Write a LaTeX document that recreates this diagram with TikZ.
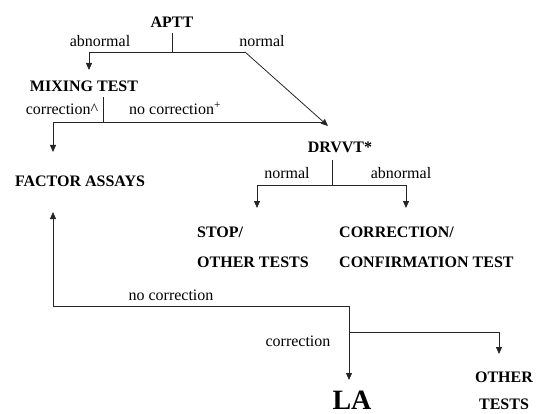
\documentclass[tikz,border=0pt]{standalone}
\usepackage{fontspec}
\setmainfont{Liberation Serif}
\usetikzlibrary{arrows.meta}
\begin{document}
\begin{tikzpicture}[x=1pt,y=-1pt,
  box/.style={font=\fontsize{16}{30}\selectfont\bfseries, inner sep=0pt, anchor=base},
  lab/.style={font=\fontsize{16}{18}\selectfont, inner sep=0pt, anchor=base},
  conn/.style={draw=black!85, line width=0.8pt},
  arr/.style={conn, -{Triangle[length=7pt,width=6pt]}}]
\useasboundingbox (0,0) rectangle (537,414);
% nodes
\node[box] (aptt) at (172,28) {APTT};
\node[box] (mix) at (84,92) {MIXING TEST};
\node[box] (fa) at (80,186) {FACTOR ASSAYS};
\node[box] (drvvt) at (340,153) {DRVVT*};
\node[box, anchor=base west, align=left] (stop) at (197,267) {STOP/\\OTHER TESTS};
\node[box, anchor=base west, align=left] (conf) at (339,267) {CORRECTION/\\CONFIRMATION TEST};
\node[box, font=\fontsize{28}{30}\selectfont\bfseries] (la) at (352,409) {LA};
\node[box, font=\fontsize{16}{27}\selectfont\bfseries, align=center] (oth) at (504,409) {OTHER\\TESTS};
% labels
\node[lab] (l1) at (100,47) {abnormal};
\node[lab] (l2) at (262,47) {normal};
\node[lab] (l3) at (62,115) {correction\^{}};
\node[lab] (l4) at (175,115) {no correction\textsuperscript{+}};
\node[lab] (l5) at (287,178) {normal};
\node[lab] (l6) at (401,178) {abnormal};
\node[lab] (l7) at (171,300) {no correction};
\node[lab] (l8) at (298,346) {correction};
% coordinates
\coordinate (apttb) at (172,33);
\coordinate (j1) at (172,52);
\coordinate (j1l) at (89,52);
\coordinate (mixt) at (89,70);
\coordinate (j1r) at (245,52);
\coordinate (drvt) at (328,126);
\coordinate (mixb) at (103,97);
\coordinate (j2) at (103,122);
\coordinate (j2l) at (53,122);
\coordinate (fat) at (53,152);
\coordinate (j2r) at (326,122);
\coordinate (drvb) at (332,160);
\coordinate (j3) at (332,185);
\coordinate (j3l) at (257,185);
\coordinate (stopt) at (257,208);
\coordinate (j3r) at (406,185);
\coordinate (conft) at (406,208);
\coordinate (fab) at (53,212);
\coordinate (j4) at (53,306);
\coordinate (j5) at (349,306);
\coordinate (lat) at (349,380);
\coordinate (j6) at (349,332);
\coordinate (j6r) at (499,332);
\coordinate (otht) at (499,354);
% connectors
\draw[conn] (apttb) -- (j1);
\draw[arr] (j1r) -- (j1l) -- (mixt);
\draw[arr] (j1r) -- (drvt);
\draw[conn] (mixb) -- (j2);
\draw[arr] (j2r) -- (j2l) -- (fat);
\draw[conn] (drvb) -- (j3);
\draw[arr] (j3) -- (j3l) -- (stopt);
\draw[arr] (j3) -- (j3r) -- (conft);
\draw[arr] (j5) -- (j4) -- (fab);
\draw[arr] (j5) -- (lat);
\draw[arr] (j6) -- (j6r) -- (otht);
\end{tikzpicture}
\end{document}
